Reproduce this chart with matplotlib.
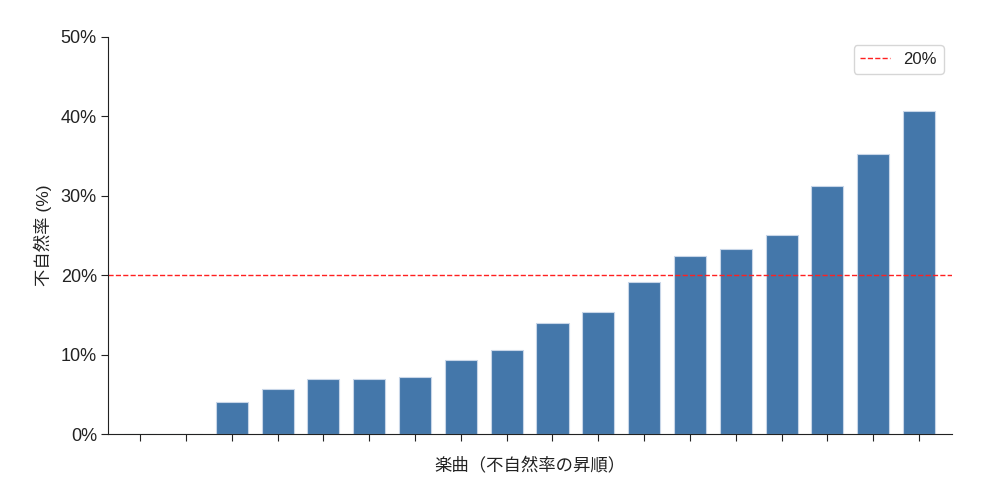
import matplotlib
matplotlib.use('Agg')
import matplotlib.pyplot as plt
from matplotlib.ticker import PercentFormatter

plt.rcParams['font.family'] = ['Liberation Sans', 'Noto Sans CJK JP', 'DejaVu Sans']
plt.rcParams['text.color'] = '#222222'
plt.rcParams['axes.labelcolor'] = '#222222'
plt.rcParams['xtick.color'] = '#222222'
plt.rcParams['ytick.color'] = '#222222'

# 不自然率（昇順）、単位は %
songs = list(range(18))
rates = [0.0, 0.0, 4.0, 5.7, 6.9, 6.95, 7.2, 9.35, 10.6, 13.95,
         15.4, 19.1, 22.45, 23.3, 25.0, 31.2, 35.3, 40.7]
threshold = 20

fig = plt.figure(figsize=(9.84, 4.84), dpi=100)
ax = fig.add_axes([0.1098, 0.1033, 0.8577, 0.8203])

ax.bar(songs, rates, width=0.7, color='#4477aa', edgecolor='#c8d6e8', linewidth=0.8)
ax.axhline(threshold, color='#ff2020', linestyle='--', linewidth=1.0, label='20%')

ax.set_xlim(-0.7, 17.72)
ax.set_ylim(0, 50)
ax.set_xticks(songs)
ax.set_xticklabels([])
ax.yaxis.set_major_formatter(PercentFormatter(decimals=0))
ax.tick_params(labelsize=13, length=5, pad=3)

ax.set_xlabel('楽曲（不自然率の昇順）', fontsize=12.5, labelpad=9)
ax.set_ylabel('不自然率 (%)', fontsize=12.5, labelpad=6)

ax.spines['top'].set_visible(False)
ax.spines['right'].set_visible(False)
ax.spines['left'].set_color('#222222')
ax.spines['bottom'].set_color('#222222')

ax.legend(loc='upper right', fontsize=12, handlelength=1.8)

fig.savefig('out.png', dpi=100)
plt.close(fig)
